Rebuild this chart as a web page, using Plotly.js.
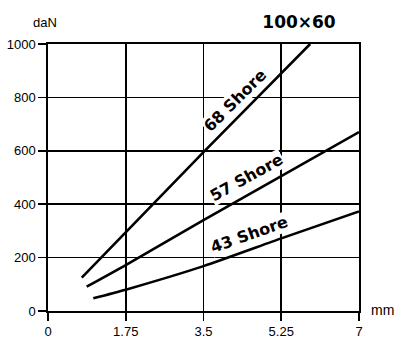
<!DOCTYPE html>
<html>
<head>
<meta charset="utf-8">
<script src="https://cdn.plot.ly/plotly-3.0.1.min.js"></script>
<style>html,body{margin:0;padding:0;background:#fff;}#chart{width:397px;height:338px;}</style>
</head>
<body>
<div id="chart"></div>
<script>
// Data (deflection mm -> load daN)
const xTickVals = [0, 1.75, 3.5, 5.25, 7];
const xTickText = ["0", "1.75", "3.5", "5.25", "7"];
const yTickVals = [0, 200, 400, 600, 800, 1000];

const shore68X = [0.76, 1.75, 3.5, 5.9];
const shore68Y = [125, 295, 595, 1000];

const shore57X = [0.87, 1.75, 3.5, 5.25, 7];
const shore57Y = [91, 172, 340, 505, 670];

const shore43X = [1.02, 1.75, 3.5, 5.25, 7];
const shore43Y = [48, 80, 168, 272, 373];

const seriesNames = ["68 Shore", "57 Shore", "43 Shore"];

const lineStyle = {color: "#000", width: 2.6};
const traces = [
  {x: shore68X, y: shore68Y, name: seriesNames[0], mode: "lines", line: lineStyle},
  {x: shore57X, y: shore57Y, name: seriesNames[1], mode: "lines", line: Object.assign({shape: "spline", smoothing: 0.6}, lineStyle)},
  {x: shore43X, y: shore43Y, name: seriesNames[2], mode: "lines", line: Object.assign({shape: "spline", smoothing: 0.6}, lineStyle)}
];

const labelFont = {family: "DejaVu Sans", size: 16, color: "#000"};
const tickFont = {family: "Liberation Sans, Arial", size: 13, color: "#000"};

const layout = {
  width: 397, height: 338,
  margin: {l: 48, r: 38, t: 44, b: 27, pad: 0},
  paper_bgcolor: "#fff", plot_bgcolor: "#fff",
  showlegend: false,
  title: {
    text: "<b>100×60</b>",
    font: {family: "DejaVu Sans", size: 17, color: "#000"},
    x: 299 / 397, xref: "container", xanchor: "center",
    y: 1 - 22 / 338, yref: "container", yanchor: "middle"
  },
  xaxis: {
    range: [0, 7], tickmode: "array", tickvals: xTickVals, ticktext: xTickText,
    showgrid: true, gridcolor: "#000", gridwidth: 1.7,
    showline: true, linecolor: "#000", linewidth: 1.7, mirror: true,
    ticks: "outside", ticklen: 8, tickwidth: 1.7, tickcolor: "#000",
    zeroline: false, tickfont: tickFont, fixedrange: true
  },
  yaxis: {
    range: [0, 1000], tickmode: "array", tickvals: yTickVals,
    showgrid: true, gridcolor: "#000", gridwidth: 1.7,
    showline: true, linecolor: "#000", linewidth: 1.7, mirror: true,
    ticks: "outside", ticklen: 8, tickwidth: 1.7, tickcolor: "#000",
    zeroline: false, tickfont: tickFont, fixedrange: true
  },
  annotations: [
    {text: "<b>" + seriesNames[0] + "</b>", x: 4.28, y: 776, xref: "x", yref: "y",
     xshift: -3, yshift: 3,
     showarrow: false, textangle: -45, font: labelFont, bgcolor: "#fff", borderpad: 0},
    {text: "<b>" + seriesNames[1] + "</b>", x: 4.5, y: 490, xref: "x", yref: "y",
     xshift: -1.5, yshift: 3,
     showarrow: false, textangle: -29, font: labelFont, bgcolor: "#fff", borderpad: 0},
    {text: "<b>" + seriesNames[2] + "</b>", x: 4.55, y: 275, xref: "x", yref: "y",
     xshift: -1, yshift: 3,
     showarrow: false, textangle: -19.5, font: labelFont, bgcolor: "#fff", borderpad: 0},
    {text: "daN", x: (45 - 48) / 311, y: (311 - 22) / 267, xref: "paper", yref: "paper",
     showarrow: false, xanchor: "center", yanchor: "middle",
     font: {family: "Liberation Sans, Arial", size: 13, color: "#000"}},
    {text: "mm", x: (382 - 48) / 311, y: (311 - 310) / 267, xref: "paper", yref: "paper",
     showarrow: false, xanchor: "center", yanchor: "middle",
     font: {family: "Liberation Sans, Arial", size: 14, color: "#000"}}
  ]
};

Plotly.newPlot("chart", traces, layout, {staticPlot: true, displayModeBar: false});
</script>
</body>
</html>
